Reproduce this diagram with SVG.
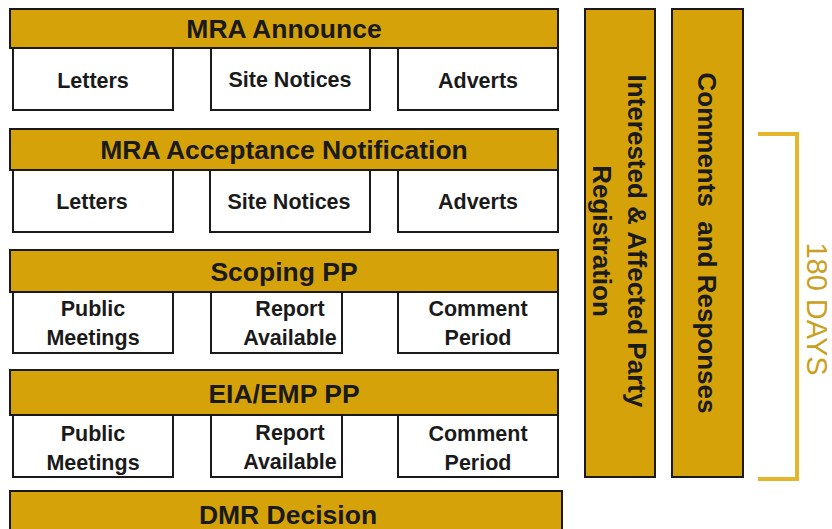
<svg xmlns="http://www.w3.org/2000/svg" width="832" height="529" viewBox="0 0 832 529">
<style>
.bar{fill:#D6A20A;stroke:#1a1a1a;stroke-width:2}
.box{fill:#ffffff;stroke:#1a1a1a;stroke-width:2}
.ht{font-family:"Liberation Sans",Arial,sans-serif;font-weight:bold;font-size:26.5px;fill:#1a1a1a;text-anchor:middle}
.bt{font-family:"Liberation Sans",Arial,sans-serif;font-weight:bold;font-size:21.5px;fill:#1a1a1a;text-anchor:middle}
.vt{font-family:"Liberation Sans",Arial,sans-serif;font-weight:bold;font-size:26px;fill:#1a1a1a;text-anchor:middle}
.days{font-family:"Liberation Sans",Arial,sans-serif;font-size:29px;fill:#C9A020;text-anchor:middle}
</style>
<rect width="832" height="529" fill="#ffffff"/>

<g id="mra-announce"><rect class="bar" x="10" y="9" width="548" height="39"/><text class="ht" x="284" y="38">MRA Announce</text></g>
<g id="a-letters"><rect class="box" x="13" y="48" width="160" height="62"/><text class="bt" x="93" y="88">Letters</text></g>
<g id="a-site"><rect class="box" x="211" y="48" width="159" height="62"/><text class="bt" x="290" y="87">Site Notices</text></g>
<g id="a-adverts"><rect class="box" x="398" y="48" width="160" height="62"/><text class="bt" x="478" y="88">Adverts</text></g>

<g id="mra-accept"><rect class="bar" x="10" y="129" width="548" height="41"/><text class="ht" x="284" y="159">MRA Acceptance Notification</text></g>
<g id="b-letters"><rect class="box" x="13" y="170" width="160" height="62"/><text class="bt" x="92" y="209">Letters</text></g>
<g id="b-site"><rect class="box" x="210" y="170" width="160" height="62"/><text class="bt" x="289" y="209">Site Notices</text></g>
<g id="b-adverts"><rect class="box" x="398" y="170" width="160" height="62"/><text class="bt" x="478" y="209">Adverts</text></g>

<g id="scoping"><rect class="bar" x="10" y="250" width="548" height="42"/><text class="ht" x="284" y="281">Scoping PP</text></g>
<g id="c-meet"><rect class="box" x="13" y="292" width="160" height="61"/><text class="bt" x="93" y="316">Public</text><text class="bt" x="93" y="345">Meetings</text></g>
<g id="c-report"><rect class="box" x="211" y="292" width="131" height="61"/><text class="bt" x="290" y="316">Report</text><text class="bt" x="290" y="345">Available</text></g>
<g id="c-comment"><rect class="box" x="398" y="292" width="160" height="61"/><text class="bt" x="478" y="316">Comment</text><text class="bt" x="478" y="345">Period</text></g>

<g id="eia"><rect class="bar" x="10" y="370" width="548" height="45"/><text class="ht" x="284" y="403">EIA/EMP PP</text></g>
<g id="d-meet"><rect class="box" x="13" y="415" width="160" height="62"/><text class="bt" x="93" y="441">Public</text><text class="bt" x="93" y="470">Meetings</text></g>
<g id="d-report"><rect class="box" x="211" y="415" width="131" height="62"/><text class="bt" x="290" y="440">Report</text><text class="bt" x="290" y="469">Available</text></g>
<g id="d-comment"><rect class="box" x="398" y="415" width="160" height="62"/><text class="bt" x="478" y="441">Comment</text><text class="bt" x="478" y="470">Period</text></g>

<g id="dmr"><rect class="bar" x="10" y="491" width="552" height="44"/><text class="ht" x="288" y="524">DMR Decision</text></g>

<g id="iap"><rect class="bar" x="585" y="9" width="70" height="468"/>
<text class="vt" transform="translate(628,241) rotate(90)" x="0" y="0">Interested &amp; Affected Party</text>
<text class="vt" transform="translate(593,241) rotate(90)" x="0" y="0">Registration</text></g>
<g id="cr"><rect class="bar" x="672" y="9" width="71" height="468"/>
<text class="vt" transform="translate(698,243) rotate(90)" x="0" y="0" xml:space="preserve">Comments  and Responses</text></g>

<g id="connectors"><path d="M758 134 H797 V479 H758" fill="none" stroke="#E6B62A" stroke-width="4"/></g>
<g id="days"><text class="days" transform="translate(807,309) rotate(90)" x="0" y="0">180 DAYS</text></g>
</svg>
